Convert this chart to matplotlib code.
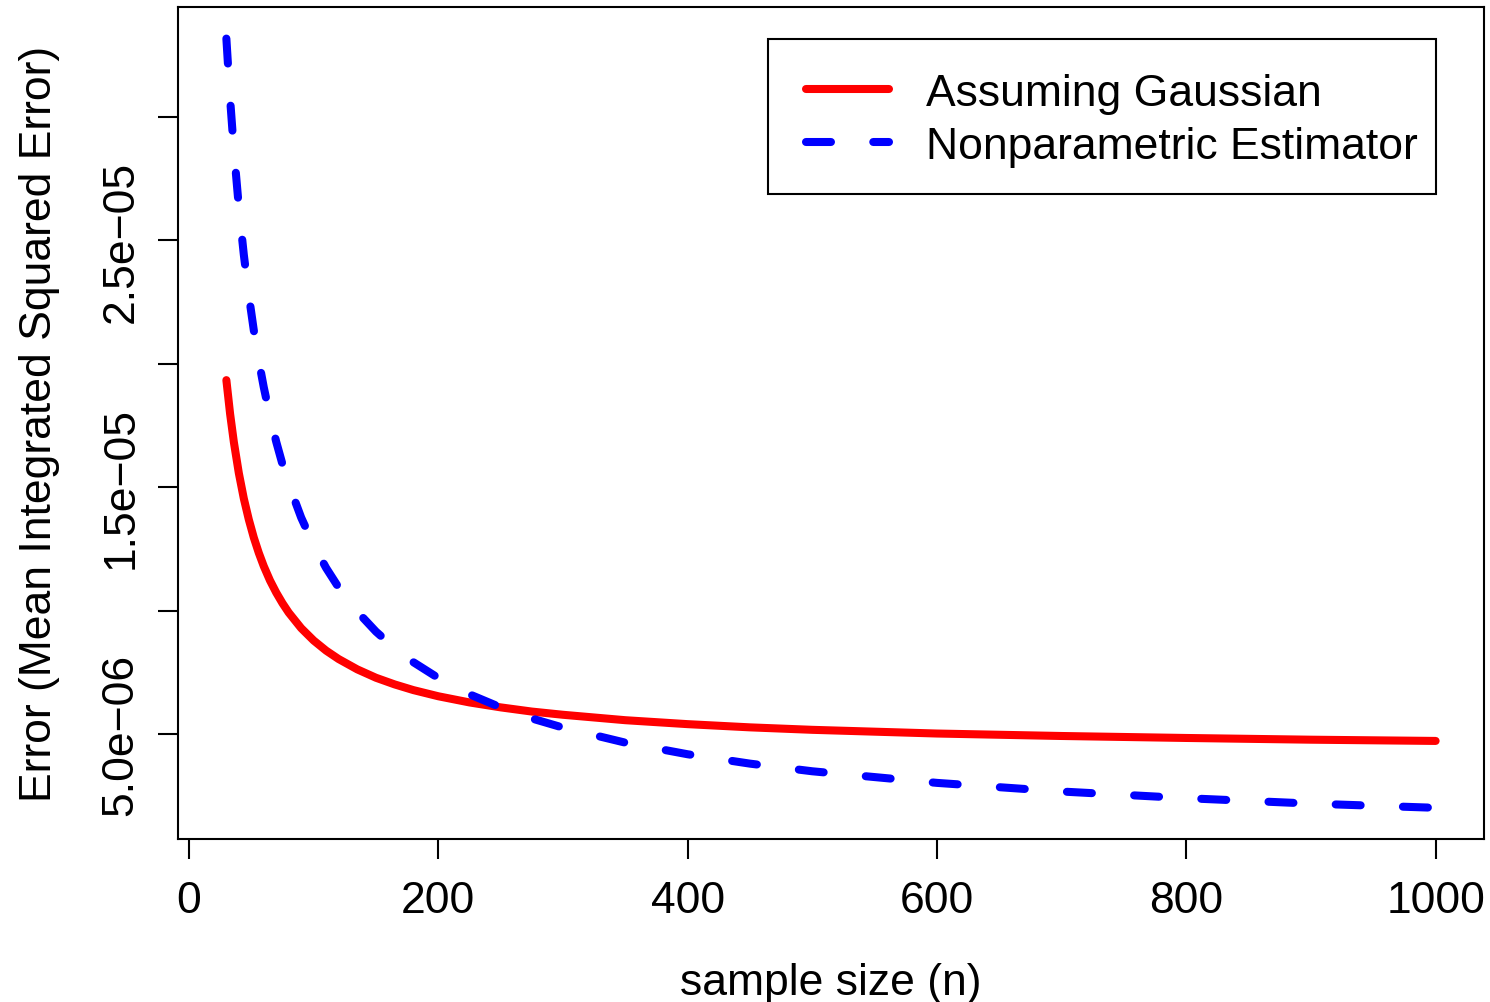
import numpy as np
import matplotlib
matplotlib.use("Agg")
from matplotlib import pyplot as plt
from matplotlib.patches import Rectangle

# Data
n = [30, 33, 36, 40, 44, 48, 52, 56, 60, 65, 70, 75, 80, 90, 100, 110, 120, 135,
     150, 165, 180, 200, 225, 250, 275, 300, 350, 400, 450, 500, 600, 700, 800,
     900, 1000]
gauss_err = [19.34, 17.97, 16.83, 15.57, 14.54, 13.69, 12.96, 12.34, 11.80, 11.22,
             10.73, 10.30, 9.92, 9.29, 8.79, 8.38, 8.04, 7.62, 7.28, 7.01,
             6.78, 6.53, 6.28, 6.08, 5.91, 5.78, 5.56, 5.40, 5.27, 5.17,
             5.02, 4.92, 4.84, 4.77, 4.72]
nonpar_err = [33.18, 30.73, 28.67, 26.35, 24.42, 22.78, 21.36, 20.13, 19.05, 17.87,
              16.84, 15.93, 15.13, 13.77, 12.66, 11.73, 10.94, 9.96, 9.15, 8.48,
              7.91, 7.27, 6.61, 6.08, 5.63, 5.26, 4.65, 4.18, 3.80, 3.49,
              3.02, 2.67, 2.40, 2.18, 2.01]
gauss_err = [v * 1e-6 for v in gauss_err]
nonpar_err = [v * 1e-6 for v in nonpar_err]

x_ticks = [0, 200, 400, 600, 800, 1000]
y_ticks = [5e-6, 1e-5, 1.5e-5, 2e-5, 2.5e-5, 3e-5]
y_labels = ['5.0e\u221206', '', '1.5e\u221205', '', '2.5e\u221205', '']

plt.rcParams['font.family'] = ['Liberation Sans', 'DejaVu Sans']
FS = 32
W, H = 1490, 1003

fig = plt.figure(figsize=(14.9, 10.03), dpi=100)
ax = fig.add_axes([178 / W, 1 - 840 / H, (1484 - 178) / W, (840 - 8) / H])

ax.plot(n, gauss_err, color='#FF0000', lw=5.8, solid_capstyle='round',
        solid_joinstyle='round', label='Assuming Gaussian')
ax.plot(n, nonpar_err, color='#0000FF', lw=5.8, dashes=(3.1, 5.25),
        dash_capstyle='round', label='Nonparametric Estimator')

ax.set_xlim(-8.8, 1038.8)
ax.set_ylim(7.46e-7, 3.446e-5)

ax.set_xticks(x_ticks)
ax.set_xticklabels([str(t) for t in x_ticks])
ax.set_yticks(y_ticks)
ax.set_yticklabels(y_labels, rotation=90, va='center')

ax.tick_params(axis='both', direction='out', length=14.4, width=1.5, labelsize=FS)
ax.tick_params(axis='x', pad=15)
ax.tick_params(axis='y', pad=12)
for s in ax.spines.values():
    s.set_linewidth(1.5)

ax.set_xlabel('sample size (n)', fontsize=FS, labelpad=30)
ax.set_ylabel('Error (Mean Integrated Squared Error)', fontsize=FS, labelpad=29)

# legend without its own frame, box drawn separately like R's legend()
leg = ax.legend(loc='upper left', bbox_to_anchor=(806 / W, 1 - 74 / H),
                bbox_transform=fig.transFigure, fontsize=FS, frameon=False,
                handlelength=1.86, handletextpad=0.84, borderpad=0,
                labelspacing=0.26, borderaxespad=0)
fig.patches.append(Rectangle((768 / W, 1 - 195 / H), (1436 - 768) / W, (195 - 40) / H,
                             transform=fig.transFigure, fill=False,
                             edgecolor='black', lw=1.5, zorder=5))

fig.savefig('out.png', dpi=100)
